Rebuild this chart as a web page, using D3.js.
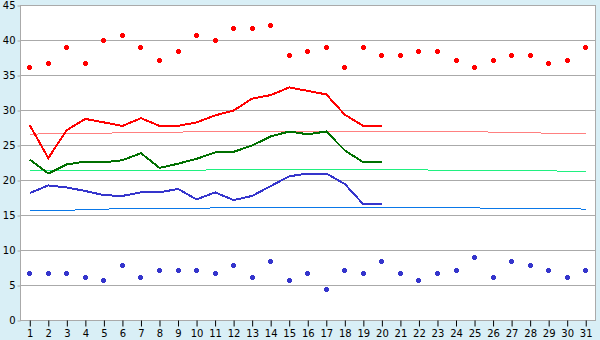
<!DOCTYPE html>
<html>
<head>
<meta charset="utf-8">
<script src="https://cdn.jsdelivr.net/npm/d3@7"></script>
<style>
  html, body { margin: 0; padding: 0; background: #d9eff6; }
  svg { display: block; font-family: "DejaVu Sans", Verdana, sans-serif; font-size: 10px; }
</style>
</head>
<body>
<svg id="chart" width="600" height="340"></svg>
<script>
// days of the month (x categories)
const DAYS = [1,2,3,4,5,6,7,8,9,10,11,12,13,14,15,16,17,18,19,20,21,22,23,24,25,26,27,28,29,30,31];
const Y_TICKS = [0,5,10,15,20,25,30,35,40,45];

// record highs / lows per day (markers)
const RECORD_MAX = [36.1,36.7,39.0,36.7,40.0,40.7,39.0,37.2,38.4,40.7,40.0,41.7,41.7,42.2,37.8,38.4,39.0,36.1,39.0,37.8,37.8,38.4,38.4,37.2,36.1,37.2,37.8,37.8,36.7,37.2,39.0];
const RECORD_MIN = [6.7,6.7,6.7,6.1,5.7,7.8,6.1,7.2,7.2,7.2,6.7,7.8,6.1,8.4,5.7,6.7,4.4,7.2,6.7,8.4,6.7,5.7,6.7,7.2,9.0,6.1,8.4,7.8,7.2,6.1,7.2];

// this month so far (days 1-20)
const CUR_MAX  = [27.9,23.2,27.2,28.8,28.3,27.8,28.9,27.8,27.8,28.3,29.3,30.0,31.7,32.2,33.3,32.8,32.3,29.4,27.8,27.8];
const CUR_MEAN = [23.0,21.0,22.3,22.7,22.6,22.9,23.9,21.8,22.4,23.1,24.0,24.1,25.0,26.3,27.0,26.6,27.0,24.3,22.6,22.6];
const CUR_MIN  = [18.2,19.3,19.0,18.5,17.9,17.8,18.3,18.3,18.8,17.3,18.3,17.2,17.8,19.2,20.6,21.0,21.0,19.5,16.6,16.6];

// normals (whole month)
const NORM_MAX  = [26.6,26.7,26.7,26.7,26.7,26.9,26.9,26.9,26.9,27.0,27.0,27.0,27.0,27.0,27.0,27.0,27.0,27.0,27.0,27.0,27.0,27.0,27.0,27.0,27.0,26.9,26.9,26.9,26.7,26.7,26.7];
const NORM_MEAN = [21.4,21.4,21.4,21.4,21.4,21.4,21.4,21.4,21.4,21.4,21.6,21.6,21.6,21.6,21.6,21.6,21.6,21.6,21.6,21.6,21.6,21.6,21.4,21.4,21.4,21.4,21.4,21.4,21.4,21.3,21.3];
const NORM_MIN  = [15.7,15.7,15.7,15.9,15.9,16.0,16.0,16.0,16.0,16.0,16.1,16.1,16.1,16.1,16.1,16.1,16.1,16.1,16.1,16.1,16.1,16.1,16.1,16.1,16.1,16.0,16.0,16.0,16.0,16.0,15.9];

const svg = d3.select('#chart');
const L = 20, R = 595, T = 5, B = 320;

const x = d3.scalePoint().domain(DAYS).range([L + 0.5, R]).padding(0.5);
const y = d3.scaleLinear().domain([0, 45]).range([B + 0.5, T + 0.5]);

// plot background
svg.append('rect')
  .attr('x', L).attr('y', T).attr('width', R - L).attr('height', B - T)
  .attr('fill', '#fff');

// gridlines
svg.append('g')
  .selectAll('line')
  .data(Y_TICKS.filter(d => d > 0))
  .join('line')
  .attr('x1', L).attr('x2', R)
  .attr('y1', d => y(d)).attr('y2', d => y(d))
  .attr('stroke', '#aaa')
  .attr('shape-rendering', 'crispEdges');

// right border
svg.append('line')
  .attr('x1', R + 0.5).attr('x2', R + 0.5).attr('y1', T).attr('y2', B + 1)
  .attr('stroke', '#aaa');

// axes
const yAxis = d3.axisLeft(y).tickValues(Y_TICKS).tickSize(3).tickPadding(2);
const gy = svg.append('g').attr('transform', `translate(${L + 0.5},0)`).call(yAxis);
const xAxis = d3.axisBottom(x).tickSize(6).tickPadding(3);
const gx = svg.append('g').attr('transform', `translate(0,${B + 0.5})`).call(xAxis);

[gy, gx].forEach(g => {
  g.select('.domain').attr('stroke', '#aaa');
  g.selectAll('.tick line').attr('stroke', '#000');
  g.selectAll('.tick text').attr('fill', '#000')
    .style('font-family', '"DejaVu Sans", Verdana, sans-serif').style('font-size', '10px');
});
gx.select('.domain').attr('d', `M${L},0H${R + 1}`);
gy.select('.domain').attr('d', `M0,${T}V${B}`);
gy.selectAll('.tick line').attr('stroke', '#aaa');

// lines
const line = d3.line().x((d, i) => x(DAYS[i])).y(d => y(d));

function drawLine(data, color, width){
  svg.append('path')
    .datum(data)
    .attr('d', line)
    .attr('fill', 'none')
    .attr('stroke', color)
    .attr('stroke-width', width)
    .attr('shape-rendering', 'crispEdges');
}

drawLine(NORM_MAX, '#ff8080', 1);
drawLine(NORM_MEAN, '#20f080', 1);
drawLine(NORM_MIN, '#0a78e8', 1);
drawLine(CUR_MAX, '#ff0000', 2);
drawLine(CUR_MEAN, '#007000', 2);
drawLine(CUR_MIN, '#3535cc', 2);

// record markers (small plus shapes, snapped to the pixel grid)
const plus = 'M-1.5,-2.5h3v1h1v3h-1v1h-3v-1h-1v-3h1z';
function drawMarkers(data, color){
  svg.append('g')
    .selectAll('path')
    .data(data)
    .join('path')
    .attr('d', plus)
    .attr('transform', (d, i) => `translate(${Math.floor(x(DAYS[i])) + 0.5},${Math.floor(y(d)) + 0.5})`)
    .attr('fill', color)
    .attr('shape-rendering', 'crispEdges');
}
drawMarkers(RECORD_MAX, '#ff0000');
drawMarkers(RECORD_MIN, '#3535cc');
</script>
</body>
</html>
